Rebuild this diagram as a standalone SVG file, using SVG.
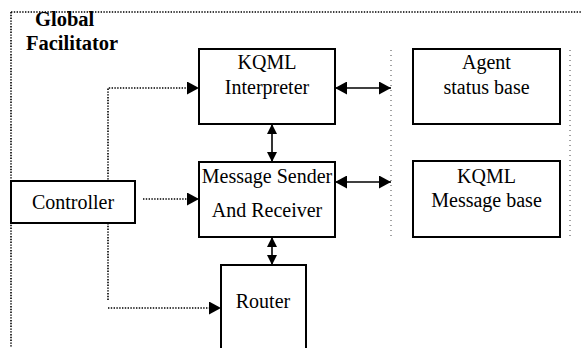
<svg xmlns="http://www.w3.org/2000/svg" width="581" height="348" viewBox="0 0 581 348">
<style>
.box{fill:#fff;stroke:#000;stroke-width:2}
.t{font-family:"Liberation Serif",Tinos,"Nimbus Roman","Times New Roman",Times,"DejaVu Serif",serif;font-size:20px;fill:#000;text-anchor:middle}
.title{font-family:"Liberation Serif",Tinos,"Nimbus Roman","Times New Roman",Times,"DejaVu Serif",serif;font-size:20.5px;font-weight:bold;fill:#000}
.dot{fill:none;stroke:#000;stroke-width:1.6;stroke-dasharray:1.4 1.4}
.sep{fill:none;stroke:#444;stroke-width:1;stroke-dasharray:1 4}
.solid{fill:none;stroke:#000;stroke-width:1.6}
</style>
<defs>
<marker id="ah" markerUnits="userSpaceOnUse" markerWidth="12" markerHeight="13" refX="12" refY="6.5" orient="auto-start-reverse" viewBox="0 0 12 13">
<path d="M0,0 L12,6.5 L0,13 Z" fill="#000"/>
</marker>
<marker id="as" markerUnits="userSpaceOnUse" markerWidth="10" markerHeight="10" refX="10" refY="5" orient="auto-start-reverse" viewBox="0 0 10 10">
<path d="M0,0 L10,5 L0,10 Z" fill="#000"/>
</marker>
</defs>
<g id="frame">
<path class="dot" d="M11,12 H581 M11,12 V348"/>
<text class="title" x="35" y="26">Global</text>
<text class="title" x="26" y="50">Facilitator</text>
</g>
<g id="separators">
<line class="sep" x1="391" y1="50" x2="391" y2="237"/>
<line class="sep" x1="570" y1="50" x2="570" y2="237"/>
</g>
<g id="connectors">
<path class="dot" d="M108,300 V88 H199" marker-end="url(#ah)"/>
<path class="dot" d="M108,308 H221" marker-end="url(#ah)"/>
<path class="dot" d="M143,199 H199" marker-end="url(#ah)"/>
<path class="solid" d="M335,88 H391" marker-start="url(#ah)" marker-end="url(#ah)"/>
<path class="solid" d="M335,182 H391" marker-start="url(#ah)" marker-end="url(#ah)"/>
<path class="solid" d="M272,124 V162" marker-start="url(#as)" marker-end="url(#as)"/>
<path class="solid" d="M272,237 V265" marker-start="url(#as)" marker-end="url(#as)"/>
</g>
<g id="controller">
<rect class="box" x="11" y="181" width="124" height="42"/>
<text class="t" x="73" y="209">Controller</text>
</g>
<g id="kqml-interpreter">
<rect class="box" x="199" y="49" width="136" height="75"/>
<text class="t" x="267" y="69">KQML</text>
<text class="t" x="267" y="94">Interpreter</text>
</g>
<g id="message-sender">
<rect class="box" x="199" y="162" width="136" height="75"/>
<text class="t" x="267" y="183">Message Sender</text>
<text class="t" x="267" y="217">And Receiver</text>
</g>
<g id="router">
<rect class="box" x="221" y="265" width="85" height="90"/>
<text class="t" x="263" y="308">Router</text>
</g>
<g id="agent-status-base">
<rect class="box" x="413" y="49" width="147" height="75"/>
<text class="t" x="486.5" y="69">Agent</text>
<text class="t" x="486.5" y="94">status base</text>
</g>
<g id="kqml-message-base">
<rect class="box" x="413" y="161" width="147" height="76"/>
<text class="t" x="486.5" y="183">KQML</text>
<text class="t" x="486.5" y="207">Message base</text>
</g>
</svg>
